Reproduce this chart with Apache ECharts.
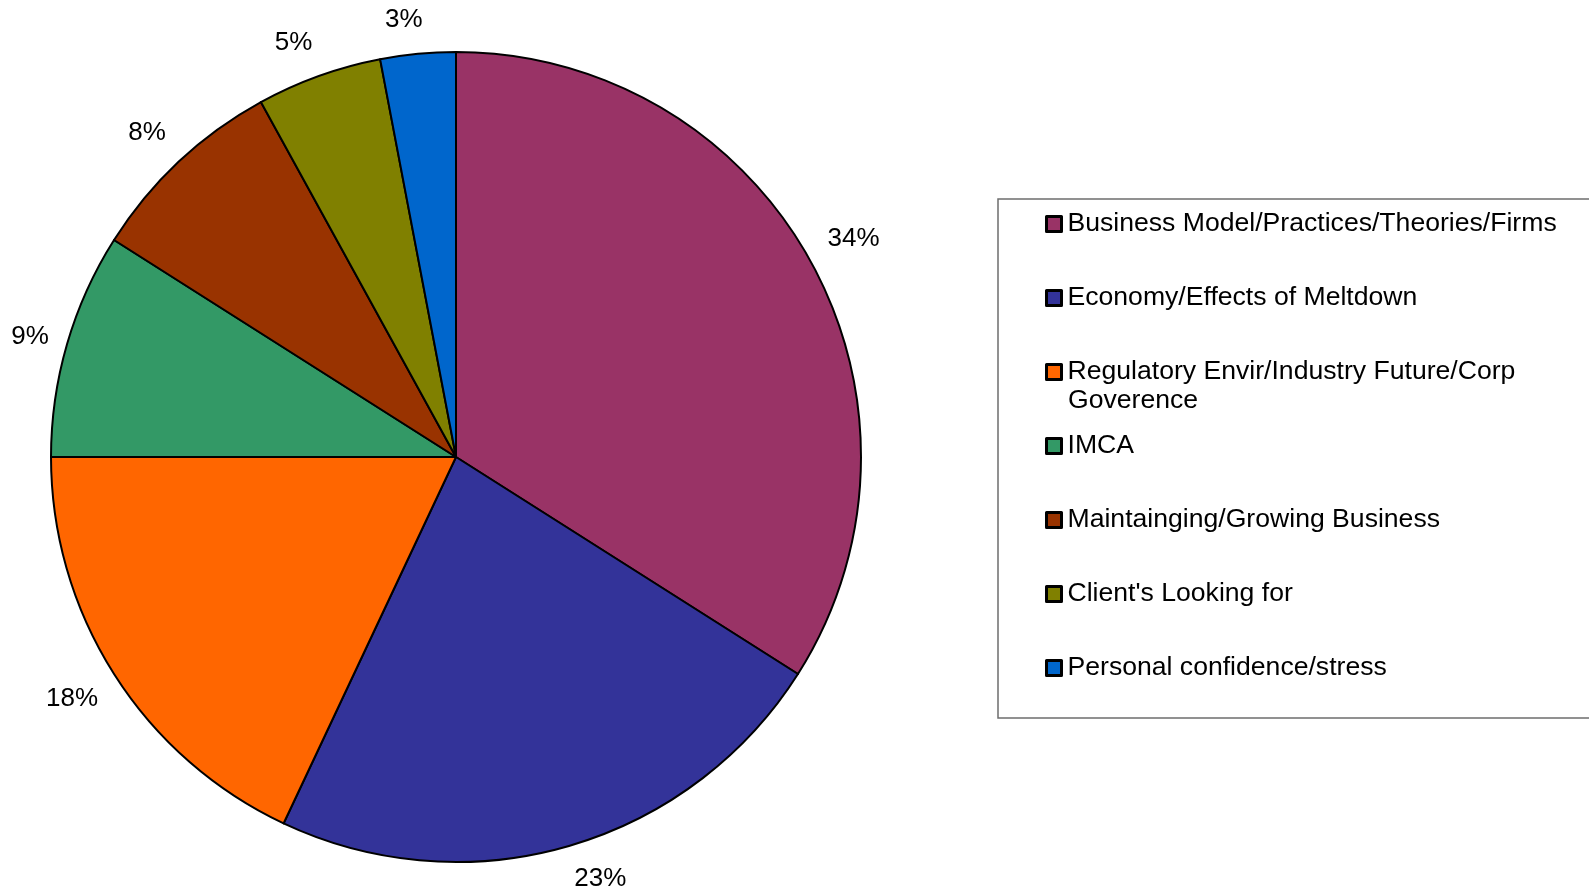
<!DOCTYPE html>
<html>
<head>
<meta charset="utf-8">
<title>Topics</title>
<script src="https://cdn.jsdelivr.net/npm/echarts@6/dist/echarts.min.js"></script>
<style>
  html, body { margin: 0; padding: 0; background: #ffffff; }
  #chart { width: 1589px; height: 894px; }
</style>
</head>
<body>
<div id="chart"></div>
<script>
// Topic names and their share of responses (percent)
const categories = [
  'Business Model/Practices/Theories/Firms',
  'Economy/Effects of Meltdown',
  'Regulatory Envir/Industry Future/Corp Goverence',
  'IMCA',
  'Maintainging/Growing Business',
  "Client's Looking for",
  'Personal confidence/stress'
];
const shares = [34, 23, 18, 9, 8, 5, 3];
const sliceColors = ['#993366', '#333399', '#FF6600', '#339966', '#993300', '#808000', '#0066CC'];

const FONT = '"Liberation Sans", Arial, Helvetica, sans-serif';
const LEGEND_FONT_SIZE = 26.6;
const LEGEND_TEXT_WIDTH = 520;

const pieData = categories.map((name, i) => ({
  name: name,
  value: shares[i],
  itemStyle: { color: sliceColors[i] }
}));

// The legend keeps one line per entry so every row has the same pitch;
// a long name's wrapped remainder is written just below its first line.
const measureCtx = document.createElement('canvas').getContext('2d');
measureCtx.font = LEGEND_FONT_SIZE + 'px ' + FONT;
function splitForWidth(text, width) {
  const words = text.split(' ');
  let line = '';
  const lines = [];
  words.forEach(w => {
    const trial = line ? line + ' ' + w : w;
    if (line && measureCtx.measureText(trial).width > width) {
      lines.push(line);
      line = w;
    } else {
      line = trial;
    }
  });
  if (line) lines.push(line);
  return lines;
}

const LEGEND_LEFT = 998, LEGEND_TOP = 199;
const LEGEND_PAD = [10, 60, 35, 47];
const ROW_HEIGHT = 30, ROW_GAP = 44, ICON = 15, TEXT_PAD = 1;
const TEXT_X = LEGEND_LEFT + LEGEND_PAD[3] + ICON + 5 + TEXT_PAD + 2;

const overflowTexts = [];
categories.forEach((name, i) => {
  const lines = splitForWidth(name, LEGEND_TEXT_WIDTH);
  if (lines.length > 1) {
    const rowCenter = LEGEND_TOP + LEGEND_PAD[0] + ROW_HEIGHT / 2 + i * (ROW_HEIGHT + ROW_GAP);
    overflowTexts.push({
      type: 'text',
      left: TEXT_X,
      top: rowCenter + ROW_HEIGHT / 2 - 1,
      silent: true,
      style: {
        text: lines.slice(1).join('\n'),
        font: LEGEND_FONT_SIZE + 'px ' + FONT,
        fill: '#000000',
        lineHeight: ROW_HEIGHT
      }
    });
  }
});

function clamp(v, lo, hi) { return Math.max(lo, Math.min(hi, v)); }

const chart = echarts.init(document.getElementById('chart'), null, { renderer: 'canvas' });

chart.setOption({
  animation: false,
  backgroundColor: '#ffffff',
  legend: {
    orient: 'vertical',
    left: LEGEND_LEFT,
    top: LEGEND_TOP,
    padding: LEGEND_PAD,
    itemGap: ROW_GAP,
    itemWidth: ICON,
    itemHeight: ICON,
    icon: 'rect',
    borderColor: '#6e6e6e',
    borderWidth: 1.5,
    selectedMode: false,
    itemStyle: { borderColor: '#000000', borderWidth: 3 },
    textStyle: {
      fontFamily: FONT,
      fontSize: LEGEND_FONT_SIZE,
      color: '#000000',
      lineHeight: ROW_HEIGHT,
      height: ROW_HEIGHT,
      width: LEGEND_TEXT_WIDTH,
      overflow: 'break',
      lineOverflow: 'truncate',
      padding: [0, 0, 0, TEXT_PAD]
    },
    data: categories
  },
  graphic: overflowTexts,
  series: [{
    type: 'pie',
    center: [456, 457],
    radius: 405,
    startAngle: 90,
    clockwise: true,
    avoidLabelOverlap: false,
    silent: true,
    itemStyle: { borderColor: '#000000', borderWidth: 2 },
    label: {
      show: true,
      position: 'outside',
      formatter: '{c}%',
      fontFamily: FONT,
      fontSize: 26,
      lineHeight: 30,
      color: '#000000'
    },
    labelLine: {
      show: true,
      length: 19,
      length2: 0,
      lineStyle: { width: 0, opacity: 0 }
    },
    // push each label away from the end of its (hidden) guide line so that
    // the side facing the pie rests on that point
    labelLayout: function (params) {
      const pts = params.labelLinePoints;
      if (!(pts && pts[1])) return {};
      const ddx = pts[1][0] - pts[0][0];
      const ddy = pts[1][1] - pts[0][1];
      const len = Math.hypot(ddx, ddy) || 1;
      const nx = ddx / len, ny = ddy / len;
      const w = params.labelRect.width, h = params.labelRect.height;
      const fx = clamp(nx * 7, -1, 1);
      const fy = Math.sign(ny) * clamp((Math.abs(ny) - 0.25) * 4, 0, 1);
      return {
        x: pts[1][0] + fx * w / 2,
        y: pts[1][1] + fy * h / 2,
        align: 'center',
        verticalAlign: 'middle'
      };
    },
    data: pieData
  }]
});
</script>
</body>
</html>
